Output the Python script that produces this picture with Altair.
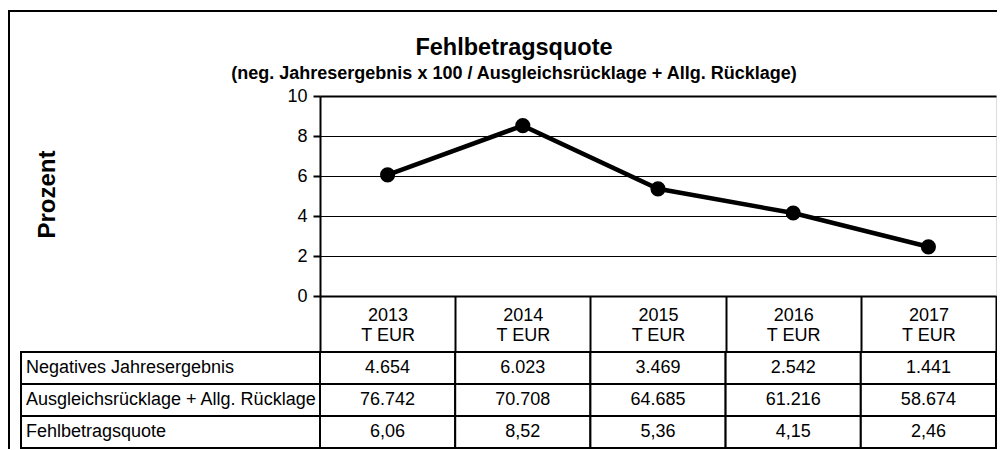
import altair as alt
import pandas as pd

# ---- data ----
years = ["2013", "2014", "2015", "2016", "2017"]
quote = [6.06, 8.52, 5.36, 4.15, 2.46]
neg_result = [4654, 6023, 3469, 2542, 1441]
reserves = [76742, 70708, 64685, 61216, 58674]
row_labels = [
    "Negatives Jahresergebnis",
    "Ausgleichsrücklage + Allg. Rücklage",
    "Fehlbetragsquote",
]
unit_label = "T EUR"
y_ticks = [0, 2, 4, 6, 8, 10]

FONT = "Liberation Sans"
FS = 18


def de_int(v):
    return f"{v:,}".replace(",", ".")


def de_dec(v):
    return f"{v:.2f}".replace(".", ",")


line_df = pd.DataFrame({"year": years, "quote": quote})

cells = []
for i, y in enumerate(years):
    cells.append({"year": y, "row": row_labels[0], "txt": de_int(neg_result[i])})
    cells.append({"year": y, "row": row_labels[1], "txt": de_int(reserves[i])})
    cells.append({"year": y, "row": row_labels[2], "txt": de_dec(quote[i])})
cells_df = pd.DataFrame(cells)
labels_df = pd.DataFrame({"row": row_labels})

W, H = 676, 200
band_x = alt.Scale(type="band", domain=years, paddingInner=0, paddingOuter=0)
row_scale = alt.Scale(domain=row_labels, range=[256, 352], paddingInner=0, paddingOuter=0)
y_lin = alt.Scale(domain=[0, 10], nice=False, zero=True)

# outer frame (decoration)
frame = alt.Chart(pd.DataFrame({"k": [0]})).mark_rect(
    fillOpacity=0, stroke="black", strokeWidth=2
).encode(
    x=alt.value(-311), x2=alt.value(720), y=alt.value(-85), y2=alt.value(420)
)

line = alt.Chart(line_df).mark_line(color="black", strokeWidth=4.5).encode(
    x=alt.X(
        "year:N",
        scale=band_x,
        sort=years,
        axis=alt.Axis(
            orient="bottom",
            title=None,
            labelExpr=f"datum.label ? [datum.label, '{unit_label}'] : ''",
            labelAngle=0,
            labelFont=FONT,
            labelFontSize=FS,
            labelColor="black",
            labelBaseline="top",
            labelLineHeight=20.5,
            labelPadding=-46,
            tickBand="extent",
            tickSize=56,
            tickWidth=2,
            tickColor="black",
            domainColor="black",
            domainWidth=2,
            grid=False,
        ),
    ),
    y=alt.Y(
        "quote:Q",
        scale=y_lin,
        axis=alt.Axis(
            orient="left",
            values=y_ticks,
            title="Prozent",
            titleFont=FONT,
            titleFontSize=24,
            titleFontWeight="bold",
            titleColor="black",
            titleAngle=270,
            titleX=-273,
            titleY=98,
            titleAlign="center",
            titleBaseline="middle",
            labelFont=FONT,
            labelFontSize=FS,
            labelColor="black",
            labelPadding=6,
            tickSize=7,
            tickWidth=2,
            tickColor="black",
            domainColor="black",
            domainWidth=2,
            grid=True,
            gridColor="black",
            gridWidth={"condition": {"test": "datum.value === 10", "value": 2}, "value": 1},
            gridOpacity=1,
        ),
    ),
)

points = alt.Chart(line_df).mark_point(
    filled=True, color="black", size=230, opacity=1, shape="circle"
).encode(
    x=alt.X("year:N", scale=band_x, sort=years, axis=None),
    y=alt.Y("quote:Q", scale=y_lin, axis=None),
)

cell_rect = alt.Chart(cells_df).mark_rect(
    fill="white", stroke="black", strokeWidth=2
).encode(
    x=alt.X("year:N", scale=band_x, sort=years, axis=None),
    y=alt.Y("row:N", scale=row_scale, sort=row_labels, axis=None),
)

cell_text = alt.Chart(cells_df).mark_text(
    font=FONT, fontSize=FS, color="black", align="center", baseline="middle"
).encode(
    x=alt.X("year:N", scale=band_x, sort=years, axis=None),
    y=alt.Y("row:N", scale=row_scale, sort=row_labels, axis=None),
    text="txt:N",
)

lab_x = alt.Scale(domain=[0, 1], range=[-299, 0])
label_rect = alt.Chart(labels_df).mark_rect(
    fill="white", stroke="black", strokeWidth=2
).encode(
    x=alt.XDatum(0, type="quantitative", scale=lab_x, axis=None),
    x2=alt.X2Datum(1),
    y=alt.Y("row:N", scale=row_scale, sort=row_labels, axis=None),
)

label_text = alt.Chart(labels_df).mark_text(
    font=FONT, fontSize=FS, color="black", align="left", baseline="middle", dx=5
).encode(
    x=alt.XDatum(0, type="quantitative", scale=lab_x, axis=None),
    y=alt.Y("row:N", scale=row_scale, sort=row_labels, axis=None),
    text="row:N",
)

chart = alt.layer(
    frame, line, points, cell_rect, cell_text, label_rect, label_text
).resolve_scale(
    x="independent", y="independent"
).resolve_axis(
    x="independent", y="independent"
).properties(
    width=W,
    height=H,
    autosize=alt.AutoSizeParams(type="none"),
    padding={"left": 312, "top": 88, "right": 1, "bottom": 153},
    title=alt.TitleParams(
        text="Fehlbetragsquote",
        subtitle="(neg. Jahresergebnis x 100 / Ausgleichsrücklage + Allg. Rücklage)",
        font=FONT,
        fontSize=23.5,
        fontWeight="bold",
        color="black",
        subtitleFont=FONT,
        subtitleFontSize=18,
        subtitleFontWeight="bold",
        subtitleColor="black",
        anchor="middle",
        frame="group",
        dx=-144,
        dy=79,
        offset=6,
        subtitlePadding=6,
    ),
).configure_view(
    stroke="#888888", strokeWidth=1.5
).configure(
    background="white"
)

chart.save("out.html", embed_options={"renderer": "svg", "actions": False})
